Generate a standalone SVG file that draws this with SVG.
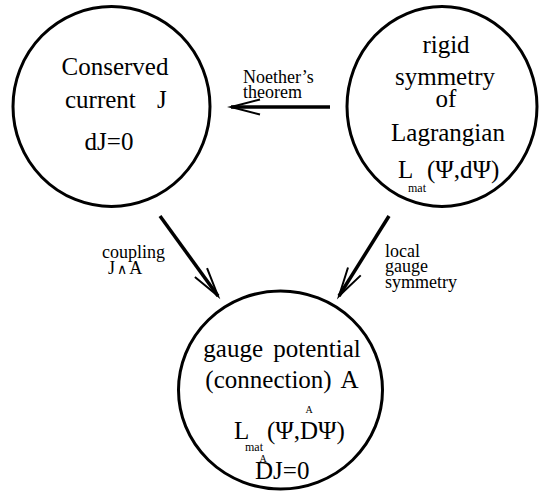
<svg xmlns="http://www.w3.org/2000/svg" width="539" height="491" viewBox="0 0 539 491">
<style>
.node{fill:none;stroke:#000;stroke-width:3}
.m{font-size:25px;text-anchor:middle}
.ml{font-size:25px}
.s{font-size:18px}
.sub{font-size:12px}
.hat{font-size:10px;text-anchor:middle}
.edge{stroke:#000;stroke-width:3.5;fill:none}
</style>
<defs>
<marker id="arr" markerUnits="userSpaceOnUse" markerWidth="40" markerHeight="24" viewBox="-32 -12 40 24" refX="0" refY="0" orient="auto" overflow="visible">
<path d="M-29,-7.5 L0,0 L-29,7.5" fill="none" stroke="#000" stroke-width="2"/>
</marker>
</defs>
<rect width="539" height="491" fill="#fff"/>
<g font-family='"Times New Roman", "Liberation Serif", Times, "Nimbus Roman", "Noto Serif", "DejaVu Serif", FreeSerif, serif' fill="#000">
<g id="conserved-current">
<ellipse class="node" cx="111.5" cy="106.5" rx="98.5" ry="100"/>
<text class="m" x="115" y="75">Conserved</text>
<text class="ml" x="65" y="108">current</text>
<text class="ml" x="157" y="108">J</text>
<text class="m" x="109" y="150">dJ=0</text>
</g>
<g id="rigid-symmetry">
<ellipse class="node" cx="442" cy="106.5" rx="95" ry="100"/>
<text class="m" x="446" y="53">rigid</text>
<text class="m" x="445" y="85">symmetry</text>
<text class="m" x="446" y="107">of</text>
<text class="m" x="448" y="141">Lagrangian</text>
<text class="ml" x="398" y="178">L</text>
<text class="sub" x="408" y="192">mat</text>
<text class="ml" x="427" y="178">(Ψ,dΨ)</text>
</g>
<g id="gauge-potential">
<ellipse class="node" cx="280.5" cy="390" rx="102" ry="99"/>
<text class="m" x="282" y="357" word-spacing="4">gauge potential</text>
<text class="m" x="282" y="388" word-spacing="4">(connection) A</text>
<text class="ml" x="234" y="439">L</text>
<text class="sub" x="245" y="451">mat</text>
<text class="ml" x="267" y="439">(Ψ,DΨ)</text>
<text class="hat" x="309" y="413">A</text>
<text class="hat" x="263" y="462">A</text>
<text class="ml" x="255" y="479">DJ=0</text>
</g>
<g id="connectors">
<line class="edge" x1="330" y1="107" x2="231" y2="107" marker-end="url(#arr)"/>
<line class="edge" x1="160" y1="216" x2="218" y2="296" marker-end="url(#arr)"/>
<line class="edge" x1="389" y1="216" x2="339" y2="296" marker-end="url(#arr)"/>
<text class="s" x="243" y="83">Noether’s</text>
<text class="s" x="243" y="98">theorem</text>
<text class="s" x="102" y="258">coupling</text>
<text class="s" x="108" y="274">J<tspan font-size="14" dx="2">∧</tspan><tspan dx="2">A</tspan></text>
<text class="s" x="385" y="257">local</text>
<text class="s" x="385" y="272">gauge</text>
<text class="s" x="385" y="288">symmetry</text>
</g>
</g>
</svg>
